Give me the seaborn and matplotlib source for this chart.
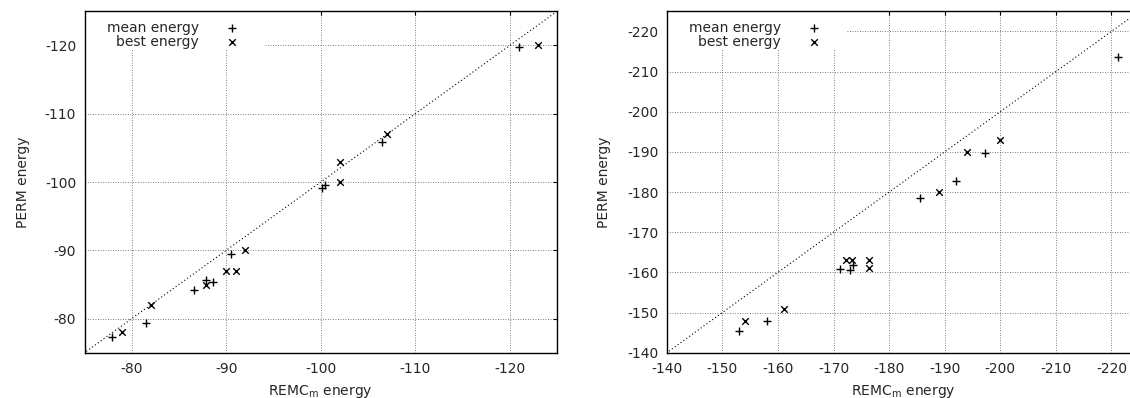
import matplotlib
matplotlib.use("Agg")
import matplotlib.pyplot as plt
from matplotlib.patches import Rectangle
import seaborn as sns

# left panel: smaller proteins
mean_remc_a = [-121.0, -106.5, -100.5, -100.1, -90.5, -87.9, -88.6, -86.6, -81.5, -77.9]
mean_perm_a = [-119.8, -105.9, -99.5, -99.1, -89.5, -85.6, -85.3, -84.2, -79.4, -77.3]
best_remc_a = [-123.0, -107.0, -102.0, -102.0, -92.0, -90.0, -91.0, -87.9, -82.0, -79.0]
best_perm_a = [-120.0, -107.0, -103.0, -100.0, -90.0, -87.0, -87.0, -84.9, -82.0, -78.0]
ticks_a = [-80, -90, -100, -110, -120]

# right panel: larger proteins
mean_remc_b = [-221.2, -197.2, -192.1, -185.6, -173.5, -171.1, -173.0, -158.0, -153.0]
mean_perm_b = [-213.5, -189.6, -182.8, -178.4, -161.8, -160.8, -160.6, -148.0, -145.5]
best_remc_b = [-200.0, -194.0, -189.0, -172.3, -173.3, -176.3, -176.3, -161.0, -154.0]
best_perm_b = [-193.0, -190.0, -180.0, -163.1, -163.1, -163.1, -161.2, -151.0, -148.0]
ticks_b = [-140, -150, -160, -170, -180, -190, -200, -210, -220]

sns.set_style("white")
plt.rcParams["font.family"] = ["DejaVu Sans"]
plt.rcParams["font.size"] = 10
plt.rcParams["axes.unicode_minus"] = False

fig = plt.figure(figsize=(11.3, 3.98), dpi=100)
ax1 = fig.add_axes([0.0748, 0.1138, 0.4181, 0.8578])
ax2 = fig.add_axes([0.5901, 0.1138, 0.4181, 0.8578])

panels = [
    (ax1, mean_remc_a, mean_perm_a, best_remc_a, best_perm_a, ticks_a, (-75, -125), -0.115),
    (ax2, mean_remc_b, mean_perm_b, best_remc_b, best_perm_b, ticks_b, (-140, -225), -0.119),
]

for ax, mx, my, bx, by, ticks, lims, ylab_x in panels:
    ax.set_axisbelow(True)
    ax.grid(True, color="#555555", linestyle=(0, (1, 2)), linewidth=0.6)
    ax.axline((0, 0), slope=1, color="black", linestyle=(0, (1, 2.2)), linewidth=0.8, zorder=2)

    sns.scatterplot(x=mx, y=my, ax=ax, marker="+", color="black", s=28,
                    linewidth=1.0, label="mean energy", zorder=3)
    sns.scatterplot(x=bx, y=by, ax=ax, marker="x", color="black", s=22,
                    linewidth=1.0, label="best energy", zorder=3)

    ax.set_xlim(lims)
    ax.set_ylim(lims)
    ax.set_xticks(ticks)
    ax.set_yticks(ticks)
    ax.tick_params(direction="in", length=3, width=0.8, top=True, right=True,
                   labelsize=10, color="black")
    ax.tick_params(axis="x", pad=6.5)
    ax.tick_params(axis="y", pad=6)
    for sp in ax.spines.values():
        sp.set_color("black")
        sp.set_linewidth(1.0)

    ax.set_xlabel(r"REMC$_\mathregular{m}$ energy", fontsize=10)
    ax.set_ylabel("PERM energy", fontsize=10)
    ax.xaxis.set_label_coords(0.5, -0.088)
    ax.yaxis.set_label_coords(ylab_x, 0.5)

    # white key area hiding the grid, like gnuplot
    ax.add_patch(Rectangle((0, 0.8866), 0.38, 0.1134, transform=ax.transAxes,
                           facecolor="white", edgecolor="none", zorder=1))
    ax.legend(loc="upper left", bbox_to_anchor=(0.047, 0.973), borderaxespad=0,
              borderpad=0, frameon=False, markerfirst=False, handlelength=1.0,
              handletextpad=1.86, labelspacing=0.0, fontsize=10)

# the right frame of the second panel falls outside the picture
ax2.spines["right"].set_visible(False)
ax2.tick_params(right=False)

fig.savefig("out.png", dpi=100)
